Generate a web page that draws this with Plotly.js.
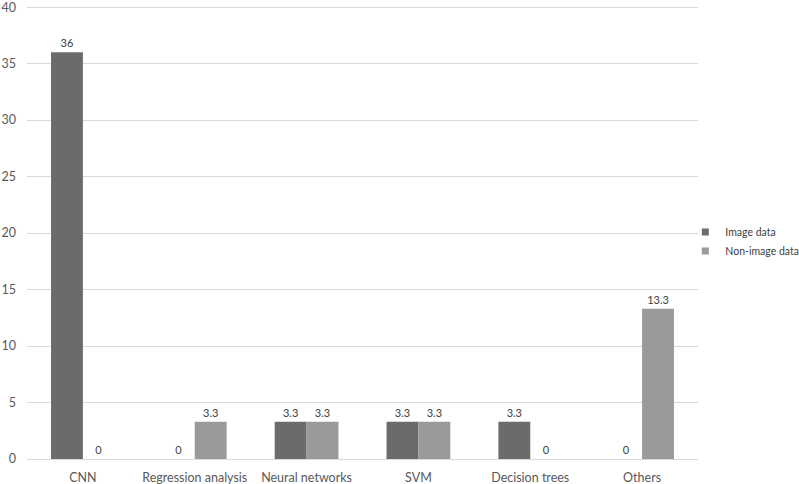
<!DOCTYPE html>
<html><head><meta charset="utf-8">
<script src="https://cdn.plot.ly/plotly-3.0.1.min.js"></script>
<style>body{margin:0;background:#fff}#c{width:799px;height:484px}</style>
</head><body><div id="c"></div>
<script>
const categories = ["CNN","Regression analysis","Neural networks","SVM","Decision trees","Others"];
const imageData = [36, 0, 3.3, 3.3, 3.3, 0];
const nonImageData = [0, 3.3, 3.3, 3.3, 0, 13.3];
const seriesNames = ["Image data","Non-image data"];
const colors = ['#6b6b6b','#9a9a9a'];
const fontFam = "Lato, Open Sans, Liberation Sans, sans-serif";
const mk = (name, y, color) => ({
  type:'bar', name, x:categories, y, showlegend:false,
  marker:{color},
  text: y.map(v=>String(v)), textposition:'outside', cliponaxis:false,
  textfont:{family:fontFam,size:11,color:'#404040'}
});
const lg = (name, color) => ({
  type:'scatter', mode:'markers', name, x:[null], y:[null],
  marker:{symbol:'square', size:7, color}, showlegend:true
});
Plotly.newPlot('c',[
  mk(seriesNames[0], imageData, colors[0]),
  mk(seriesNames[1], nonImageData, colors[1]),
  lg(seriesNames[0], colors[0]),
  lg(seriesNames[1], colors[1])
],{
  width:799,height:484,
  margin:{l:27,r:101,t:6,b:25},
  paper_bgcolor:'#fff',plot_bgcolor:'#fff',
  barmode:'group',bargap:0.43,bargroupgap:0,
  font:{family:fontFam,size:11,color:'#595959'},
  xaxis:{showgrid:false,showline:false,ticks:'',automargin:false,tickfont:{size:12.5,color:'#595959'},ticklabelstandoff:9},
  yaxis:{range:[0,40.1],tickvals:[0,5,10,15,20,25,30,35,40],gridcolor:'#d9d9d9',gridwidth:1,zeroline:true,zerolinecolor:'#d9d9d9',
    showline:false,ticks:'',automargin:false,ticklabeloverflow:'allow',tickfont:{size:12.5,color:'#595959'},ticklabelstandoff:10},
  showlegend:true,
  legend:{xref:'container',x:0.874,y:0.48,xanchor:'left',yanchor:'middle',indentation:-13,font:{size:10.5,color:'#404040'},itemwidth:30,tracegroupgap:0,borderwidth:0}
},{staticPlot:true});
</script></body></html>
